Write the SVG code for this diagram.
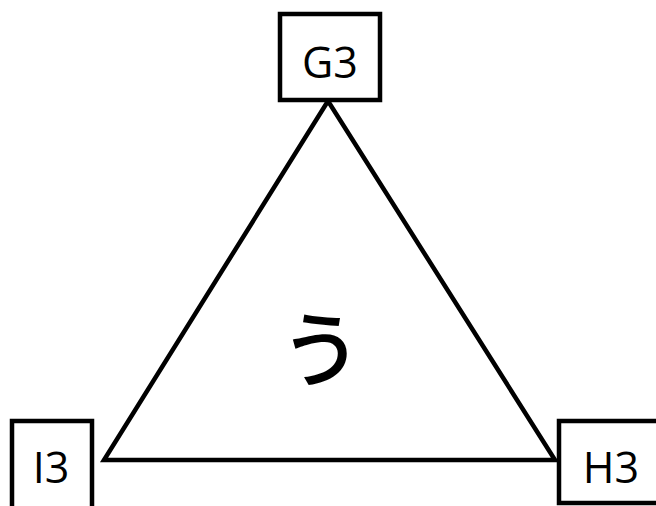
<svg xmlns="http://www.w3.org/2000/svg" width="656" height="506" viewBox="0 0 656 506">
<style>
.box{fill:#fff;stroke:#000;stroke-width:4.5}
.lbl{font-family:"Open Sans","Liberation Sans",sans-serif;font-size:43px;fill:#000;text-anchor:middle}
.edge{fill:none;stroke:#000;stroke-width:4.5;stroke-linejoin:miter}
</style>
<rect width="656" height="506" fill="#fff"/>
<g id="connectors">
<polygon class="edge" points="328,101 104,460 555,460"/>
</g>
<g id="center"><text x="321" y="380" style="font-family:'Noto Sans CJK JP',sans-serif;font-size:82px;font-weight:500;text-anchor:middle">う</text></g>
<g id="G3"><rect class="box" x="280" y="14" width="100" height="86"/><text class="lbl" x="330" y="78">G3</text></g>
<g id="I3"><rect class="box" x="12" y="421" width="80" height="90"/><text class="lbl" x="51" y="483">I3</text></g>
<g id="H3"><rect class="box" x="559" y="421" width="100" height="82"/><text class="lbl" x="611" y="483">H3</text></g>
</svg>
